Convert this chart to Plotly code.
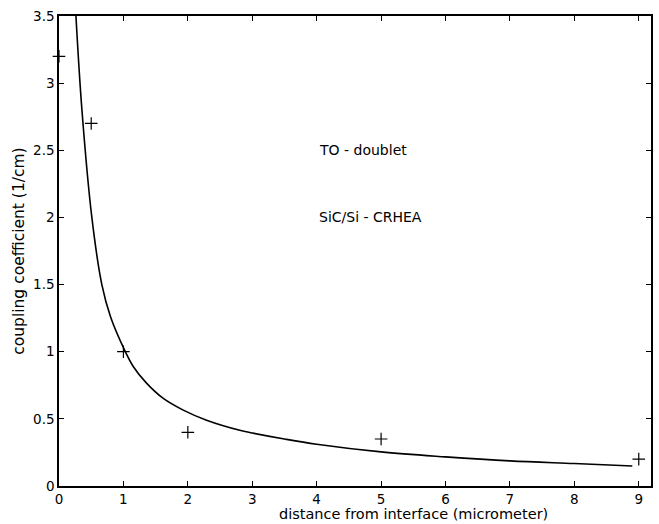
import plotly.graph_objects as go

# measured points
meas_x = [0, 0.5, 1, 2, 5, 9]
meas_y = [3.2, 2.7, 1.0, 0.4, 0.35, 0.2]

# fitted curve
fit_x = [0.263, 0.356, 0.51, 0.665, 0.8, 1.0, 1.155, 1.362, 1.619, 1.929,
         2.291, 2.806, 3.0, 3.5, 4.0, 5.0, 6.0, 7.0, 8.0, 8.9]
fit_y = [3.5, 2.80, 2.0, 1.5, 1.26, 1.03, 0.888, 0.764, 0.652, 0.565,
         0.490, 0.415, 0.395, 0.350, 0.311, 0.254, 0.217, 0.187, 0.167, 0.149]

x_ticks = [0, 1, 2, 3, 4, 5, 6, 7, 8, 9]
y_ticks = [0, 0.5, 1, 1.5, 2, 2.5, 3, 3.5]
y_tick_labels = ["0", "0.5", "1", "1.5", "2", "2.5", "3", "3.5"]

FAM = "DejaVu Sans, Liberation Sans, Arial, sans-serif"
tick_font = dict(family=FAM, color="black", size=13.5)
ann_font = dict(family=FAM, color="black", size=14)

fig = go.Figure()
fig.add_trace(go.Scatter(x=fit_x, y=fit_y, mode="lines",
                         line=dict(color="black", width=1.6, shape="spline", smoothing=1.0),
                         showlegend=False, hoverinfo="skip"))
fig.add_trace(go.Scatter(x=meas_x, y=meas_y, mode="markers",
                         marker=dict(symbol="cross-thin", size=9, color="black", line=dict(color="black", width=1.2)),
                         showlegend=False, cliponaxis=False))

fig.add_annotation(x=4.0, y=2.5, text="TO - doublet", showarrow=False, xanchor="left", yanchor="middle", font=ann_font)
fig.add_annotation(x=4.0, y=2.0, text="SiC/Si - CRHEA", showarrow=False, xanchor="left", yanchor="middle", font=ann_font)

# axis titles
fig.add_annotation(xref="paper", yref="paper", x=0.599, y=-0.0815, text="distance from interface (micrometer)",
                   showarrow=False, xanchor="center", yanchor="bottom",
                   font=dict(family=FAM, color="black", size=14.5))
fig.add_annotation(xref="paper", yref="paper", x=-0.068, y=0.5, text="coupling coefficient (1/cm)",
                   showarrow=False, xanchor="center", yanchor="middle", textangle=-90,
                   font=dict(family=FAM, color="black", size=15.5))

axis_common = dict(showline=True, linecolor="black", linewidth=1.5, mirror="ticks", ticks="inside",
                   ticklen=5, tickwidth=1.2, tickcolor="black", showgrid=False, zeroline=False,
                   tickfont=tick_font)

fig.update_xaxes(range=[0, 9.19], tickvals=x_ticks, ticktext=[str(v) for v in x_ticks], **axis_common)
fig.update_yaxes(range=[0, 3.5], tickvals=y_ticks, ticktext=y_tick_labels, **axis_common)

fig.update_layout(width=659, height=524, margin=dict(l=59, r=6, t=16, b=38),
                  plot_bgcolor="white", paper_bgcolor="white", font=tick_font)

fig.write_html("out.html")
